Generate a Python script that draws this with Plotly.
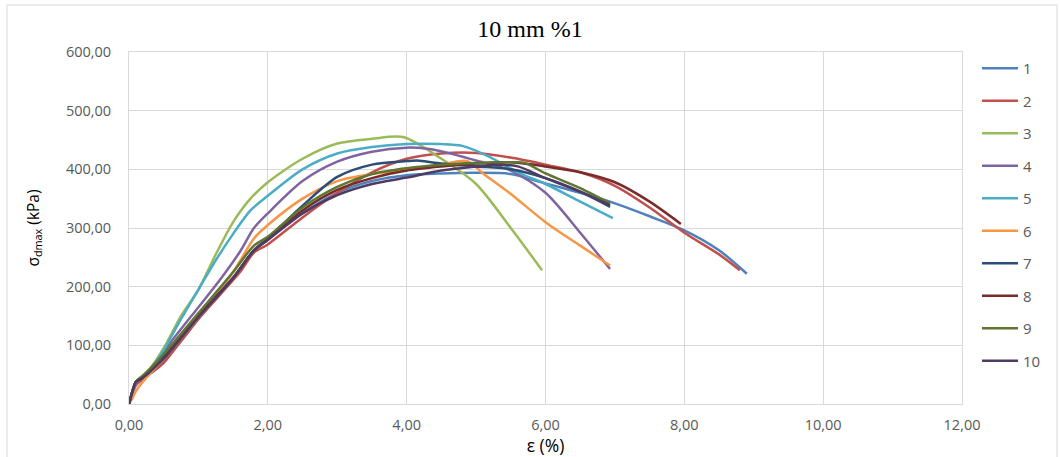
import plotly.graph_objects as go

names = ["1", "2", "3", "4", "5", "6", "7", "8", "9", "10"]
colors = ["#4F81BD", "#C0504D", "#9BBB59", "#8064A2", "#4BACC6",
          "#F79646", "#2C4D75", "#772C2A", "#5F7530", "#4D3B62"]

x1 = [0, 0.05, 0.1, 0.2, 0.4, 0.7, 1.0, 1.3, 1.6, 1.8, 2.0, 2.5, 3.0, 3.5, 4.0, 4.5, 5.0, 5.5, 6.0, 6.5, 7.0, 7.5, 8.0, 8.5, 8.9]
y1 = [0, 20, 33, 42, 62, 100, 145, 185, 228, 262, 280, 325, 360, 380, 390, 393, 394, 392, 376, 360, 342, 320, 296, 262, 222]

x2 = [0, 0.05, 0.1, 0.2, 0.4, 0.5, 0.7, 1.0, 1.3, 1.6, 1.8, 2.0, 2.5, 3.0, 3.5, 4.0, 4.5, 5.0, 5.5, 6.0, 6.5, 7.0, 7.5, 8.0, 8.5, 8.8]
y2 = [0, 18, 32, 42, 60, 70, 100, 145, 185, 225, 258, 272, 318, 360, 395, 418, 427, 428, 420, 408, 395, 372, 335, 292, 255, 228]

x3 = [0, 0.05, 0.1, 0.3, 0.5, 0.75, 1.0, 1.25, 1.5, 1.75, 2.0, 2.5, 3.0, 3.5, 3.95, 4.5, 5.0, 5.5, 5.95]
y3 = [0, 20, 38, 60, 95, 150, 195, 255, 310, 350, 378, 418, 444, 452, 455, 418, 375, 300, 228]

x4 = [0, 0.05, 0.1, 0.3, 0.6, 1.0, 1.3, 1.6, 1.8, 2.0, 2.5, 3.0, 3.5, 4.0, 4.3, 4.6, 5.0, 5.5, 6.0, 6.5, 6.93]
y4 = [0, 20, 35, 55, 105, 165, 210, 260, 300, 325, 380, 413, 430, 437, 435, 428, 415, 398, 360, 292, 230]

x5 = [0, 0.05, 0.1, 0.3, 0.5, 0.75, 1.0, 1.25, 1.5, 1.75, 2.0, 2.5, 3.0, 3.5, 4.0, 4.5, 4.8, 5.2, 5.6, 6.0, 6.5, 6.97]
y5 = [0, 20, 36, 58, 92, 145, 195, 245, 290, 330, 355, 400, 427, 438, 443, 443, 440, 421, 395, 375, 345, 317]

x6 = [0, 0.05, 0.1, 0.2, 0.5, 1.0, 1.5, 1.8, 2.0, 2.5, 3.0, 3.5, 4.0, 4.5, 4.87, 5.1, 5.5, 6.0, 6.5, 6.93]
y6 = [0, 10, 22, 38, 78, 148, 225, 282, 305, 350, 380, 392, 399, 408, 414, 393, 358, 310, 270, 236]

x7 = [0, 0.05, 0.1, 0.2, 0.5, 1.0, 1.5, 1.8, 2.0, 2.5, 3.0, 3.5, 4.0, 4.15, 4.5, 5.0, 5.5, 6.0, 6.5, 6.93]
y7 = [0, 22, 37, 45, 78, 150, 215, 262, 282, 338, 387, 408, 414, 415, 410, 405, 400, 385, 362, 336]

x8 = [0, 0.05, 0.1, 0.2, 0.5, 1.0, 1.5, 1.8, 2.0, 2.5, 3.0, 3.5, 4.0, 4.5, 5.0, 5.5, 6.0, 6.5, 7.0, 7.5, 7.95]
y8 = [0, 22, 38, 45, 80, 150, 215, 262, 280, 330, 365, 385, 398, 405, 410, 412, 405, 395, 378, 345, 307]

x9 = [0, 0.05, 0.1, 0.2, 0.5, 1.0, 1.5, 1.8, 2.0, 2.5, 3.0, 3.5, 4.0, 4.5, 5.0, 5.5, 5.7, 6.0, 6.5, 6.93]
y9 = [0, 22, 38, 48, 85, 155, 225, 270, 285, 335, 370, 392, 402, 408, 411, 412, 411, 393, 368, 342]

x10 = [0, 0.05, 0.1, 0.2, 0.5, 1.0, 1.5, 1.8, 2.0, 2.5, 3.0, 3.5, 4.0, 4.5, 5.0, 5.3, 5.6, 6.0, 6.5, 6.93]
y10 = [0, 22, 38, 45, 78, 148, 215, 262, 280, 325, 356, 375, 386, 398, 405, 408, 405, 385, 362, 339]

xs = [x1, x2, x3, x4, x5, x6, x7, x8, x9, x10]
ys = [y1, y2, y3, y4, y5, y6, y7, y8, y9, y10]

fig = go.Figure()
for n, c, xv, yv in zip(names, colors, xs, ys):
    fig.add_trace(go.Scatter(x=xv, y=yv, name=n, mode="lines", legendgroup=n,
                             line=dict(color=c, width=2.5, shape="spline", smoothing=0.8)))

tick_font = dict(family="Open Sans", size=14.5, color="#595959")
fig.update_layout(
    width=1060, height=457,
    margin=dict(l=129, r=98, t=52, b=53, autoexpand=False),
    paper_bgcolor="white", plot_bgcolor="white",
    separators=",.",
    title=dict(text="10 mm %1", x=0.5, xref="container", xanchor="center",
               y=1 - 29 / 457, yref="container", yanchor="middle",
               font=dict(family="Liberation Serif", size=24, color="#000000")),
    xaxis=dict(range=[0, 12], dtick=2, tickformat=".2f", showgrid=True, gridcolor="#D9D9D9",
               gridwidth=1, zeroline=False, showline=True, linecolor="#D9D9D9", mirror=True,
               tickfont=tick_font, ticks="", ticklabelstandoff=8, automargin=False,
               title=dict(text="ε (%)", font=dict(family="Open Sans", size=17.5, color="#000000"), standoff=6)),
    yaxis=dict(range=[0, 600], dtick=100, tickformat=".2f", showgrid=True, gridcolor="#D9D9D9",
               gridwidth=1, zeroline=False, showline=True, linecolor="#D9D9D9", mirror=True,
               tickfont=tick_font, ticks="", ticklabelstandoff=14, automargin=False,
               title=dict(text="σ<sub>dmax</sub> (kPa)", font=dict(family="Open Sans", size=15.5, color="#000000"), standoff=22)),
    legend=dict(xref="container", x=977 / 1060, xanchor="left",
                yref="container", y=1 - 52 / 457, yanchor="top", tracegroupgap=10,
                maxheight=400,
                font=dict(family="Open Sans", size=15, color="#595959"),
                itemwidth=36, bgcolor="rgba(0,0,0,0)"),
    shapes=[dict(type="rect", xref="paper", yref="paper",
                 x0=-122 / 833, x1=1 + 95 / 833, y0=-60 / 352, y1=1 + 47 / 352,
                 line=dict(color="#D9D9D9", width=1), fillcolor="rgba(0,0,0,0)", layer="below")],
)

fig.write_html("out.html", config={"displayModeBar": False},
               post_script="document.body.style.margin='0';document.body.style.overflow='hidden';")
